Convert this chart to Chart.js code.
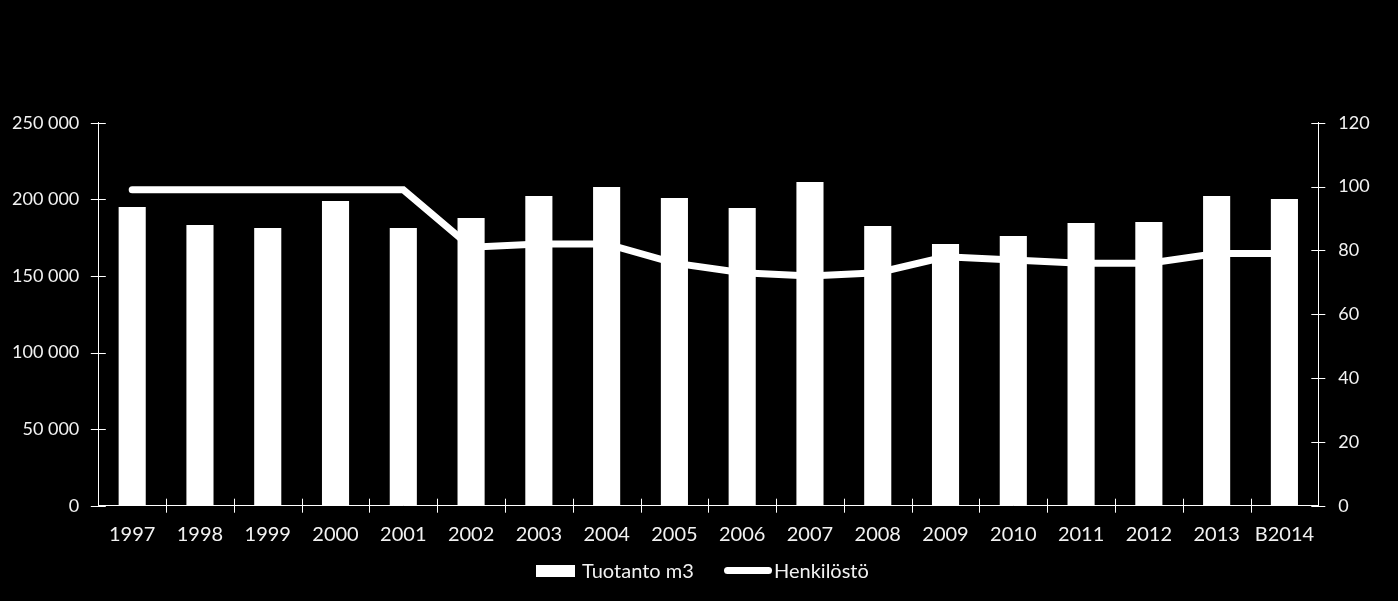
<!DOCTYPE html>
<html>
<head>
<meta charset="utf-8">
<script src="https://cdn.jsdelivr.net/npm/chart.js@4/dist/chart.umd.min.js"></script>
<style>
  html, body { margin: 0; padding: 0; background: #000; }
  #wrap { position: relative; width: 1398px; height: 601px; background: #000; overflow: hidden; }
  canvas { position: absolute; left: 0; top: 0; }
  .leg { position: absolute; font-family: Lato, "Open Sans", sans-serif; font-size: 20px; color: #f2f2f2; line-height: 24px; white-space: nowrap; }
  .sw { position: absolute; background: #fff; }
</style>
</head>
<body>
<div id="wrap">
  <canvas id="c" width="1398" height="601"></canvas>
  <div class="sw" style="left:536px; top:565px; width:39px; height:12px;"></div>
  <div class="leg" style="left:582px; top:558px;">Tuotanto m3</div>
  <div class="sw" style="left:724px; top:567px; width:48px; height:7px; border-radius:4px;"></div>
  <div class="leg" style="left:774px; top:558px;">Henkilöstö</div>
</div>
<script>
const categories = ['1997','1998','1999','2000','2001','2002','2003','2004','2005','2006','2007','2008','2009','2010','2011','2012','2013','B2014'];
const production = [195000,183200,181300,198900,181300,187800,202200,208000,200800,194300,211300,182600,170800,176000,184500,185200,202200,200200];
const staff = [99,99,99,99,99,81,82,82,76,73,72,73,78,77,76,76,79,79];
const leftTicks = [0,50000,100000,150000,200000,250000];
const rightTicks = [0,20,40,60,80,100,120];

const TEXT = '#f2f2f2';
const AXIS = '#ffffff';

function fmtThousands(v) {
  return String(v).replace(/\B(?=(\d{3})+(?!\d))/g, ' ');
}

const crossTicks = {
  id: 'crossTicks',
  afterDatasetsDraw(chart) {
    const ctx = chart.ctx;
    const x = chart.scales.x, yl = chart.scales.y, yr = chart.scales.y1;
    ctx.save();
    ctx.strokeStyle = AXIS;
    ctx.lineWidth = 1;
    ctx.beginPath();
    leftTicks.forEach(v => {
      const py = Math.round(yl.getPixelForValue(v)) + 0.5;
      ctx.moveTo(yl.right - 7.5, py); ctx.lineTo(yl.right + 7.5, py);
    });
    rightTicks.forEach(v => {
      const py = Math.round(yr.getPixelForValue(v)) + 0.5;
      ctx.moveTo(yr.left - 7, py); ctx.lineTo(yr.left + 7, py);
    });
    for (let i = 1; i < categories.length; i++) {
      const px = Math.round((x.getPixelForValue(i - 1) + x.getPixelForValue(i)) / 2) + 0.5;
      ctx.moveTo(px, x.top - 7); ctx.lineTo(px, x.top + 7);
    }
    ctx.stroke();
    ctx.restore();
  }
};

new Chart(document.getElementById('c'), {
  data: {
    labels: categories,
    datasets: [
      {
        type: 'line',
        label: 'Henkilöstö',
        data: staff,
        yAxisID: 'y1',
        borderColor: '#ffffff',
        backgroundColor: '#ffffff',
        borderWidth: 7,
        borderCapStyle: 'round',
        borderJoinStyle: 'miter',
        pointRadius: 0,
        tension: 0,
        order: 0
      },
      {
        type: 'bar',
        label: 'Tuotanto m3',
        data: production,
        yAxisID: 'y',
        backgroundColor: '#ffffff',
        borderWidth: 0,
        categoryPercentage: 1.0,
        barPercentage: 0.4,
        order: 1
      }
    ]
  },
  options: {
    responsive: false,
    devicePixelRatio: 1,
    animation: false,
    layout: { padding: { top: 122.7, left: 0, right: 0, bottom: 0 } },
    plugins: { legend: { display: false }, tooltip: { enabled: false } },
    scales: {
      x: {
        offset: true,
        grid: { display: false, offset: true, drawTicks: false, tickLength: 0 },
        border: { display: true, color: AXIS, width: 1 },
        ticks: { color: TEXT, font: { family: 'Lato', size: 20 }, padding: 17, maxRotation: 0, autoSkip: false },
        afterFit(s) { s.height = 601 - 505.7; }
      },
      y: {
        position: 'left',
        min: 0, max: 250000,
        afterBuildTicks(s) { s.ticks = leftTicks.map(v => ({ value: v })); },
        grid: { display: false, drawTicks: false, tickLength: 0 },
        border: { display: true, color: AXIS, width: 1 },
        ticks: { color: TEXT, font: { family: 'Lato', size: 18 }, padding: 19, callback: v => fmtThousands(v) },
        afterFit(s) { s.width = 98.3; }
      },
      y1: {
        position: 'right',
        min: 0, max: 120,
        afterBuildTicks(s) { s.ticks = rightTicks.map(v => ({ value: v })); },
        grid: { display: false, drawTicks: false, tickLength: 0 },
        border: { display: true, color: AXIS, width: 1 },
        ticks: { color: TEXT, font: { family: 'Lato', size: 18 }, padding: 20 },
        afterFit(s) { s.width = 1398 - 1318.3; }
      }
    }
  },
  plugins: [crossTicks]
});
</script>
</body>
</html>
